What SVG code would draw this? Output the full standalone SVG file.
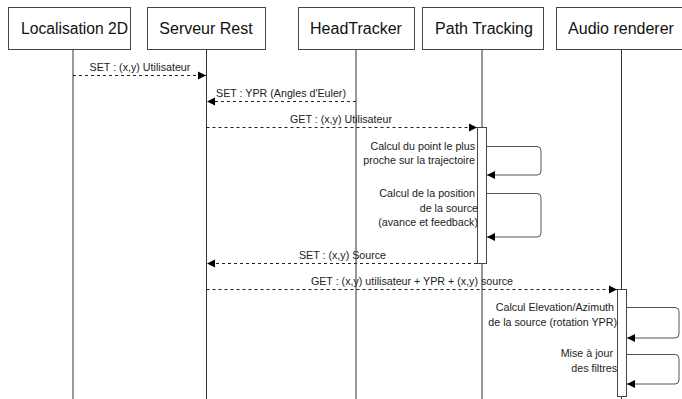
<svg xmlns="http://www.w3.org/2000/svg" width="682" height="399" viewBox="0 0 682 399">
<defs>
<style>
.box{fill:#fff;stroke:#444;stroke-width:1}
.title{font-family:"Liberation Sans",Arial,sans-serif;font-size:16px;fill:#111;text-anchor:middle}
.life{stroke:#333;stroke-width:1;fill:none}
.act{fill:#fff;stroke:#444;stroke-width:1}
.msg{stroke:#222;stroke-width:1;fill:none;stroke-dasharray:3 3}
.self{stroke:#555;stroke-width:1;fill:none}
.lbl{font-family:"Liberation Sans",Arial,sans-serif;font-size:10.7px;fill:#222}
.c{text-anchor:middle}
.r{text-anchor:end}
</style>
<marker id="ah" viewBox="0 0 10 10" refX="10" refY="5" markerWidth="8" markerHeight="9" markerUnits="userSpaceOnUse" orient="auto">
<path d="M0,0 L10,5 L0,10 Z" fill="#000"/>
</marker>
</defs>

<g id="lifelines">
<line class="life" x1="73" y1="49" x2="73" y2="399"/>
<line class="life" x1="206.5" y1="49" x2="206.5" y2="399"/>
<line class="life" x1="356" y1="49" x2="356" y2="399"/>
<line class="life" x1="482" y1="49" x2="482" y2="399"/>
<line class="life" x1="621.5" y1="49" x2="621.5" y2="399"/>
</g>

<g id="node-localisation">
<rect class="box" x="8.5" y="7.5" width="122" height="42"/>
<text class="title" x="74.5" y="34" textLength="107" lengthAdjust="spacingAndGlyphs">Localisation 2D</text>
</g>
<g id="node-serveur">
<rect class="box" x="147.5" y="7.5" width="118" height="42"/>
<text class="title" x="206" y="34">Serveur Rest</text>
</g>
<g id="node-headtracker">
<rect class="box" x="298.5" y="7.5" width="116" height="42"/>
<text class="title" x="356" y="34">HeadTracker</text>
</g>
<g id="node-pathtracking">
<rect class="box" x="422.5" y="7.5" width="121" height="42"/>
<text class="title" x="484" y="34">Path Tracking</text>
</g>
<g id="node-audio">
<rect class="box" x="556.5" y="7.5" width="130" height="42"/>
<text class="title" x="621" y="34">Audio renderer</text>
</g>

<g id="activation-pathtracking">
<rect class="act" x="477.5" y="127.5" width="9" height="136"/>
</g>
<g id="activation-audio">
<rect class="act" x="617.5" y="289.5" width="9" height="107"/>
</g>

<g id="connectors">
<line class="msg" x1="73" y1="75.5" x2="206" y2="75.5" marker-end="url(#ah)"/>
<text class="lbl c" x="140" y="71">SET : (x,y) Utilisateur</text>

<line class="msg" x1="356" y1="101.5" x2="207" y2="101.5" marker-end="url(#ah)"/>
<text class="lbl c" x="281" y="97">SET : YPR (Angles d'Euler)</text>

<line class="msg" x1="206.5" y1="127.5" x2="477" y2="127.5" marker-end="url(#ah)"/>
<text class="lbl c" x="341" y="123">GET : (x,y) Utilisateur</text>

<path class="self" d="M486.5,146.5 H537 Q541,146.5 541,150.5 V171 Q541,175 537,175 H487" marker-end="url(#ah)"/>
<text class="lbl r" x="475" y="150">Calcul du point le plus</text>
<text class="lbl r" x="475" y="164">proche sur la trajectoire</text>

<path class="self" d="M486.5,193.5 H537 Q541,193.5 541,197.5 V233 Q541,237 537,237 H487" marker-end="url(#ah)"/>
<text class="lbl r" x="475" y="197">Calcul de la position</text>
<text class="lbl r" x="478" y="211.5">de la source</text>
<text class="lbl r" x="478" y="226">(avance et feedback)</text>

<line class="msg" x1="477" y1="263.5" x2="207" y2="263.5" marker-end="url(#ah)"/>
<text class="lbl c" x="342.5" y="259">SET : (x,y) Source</text>

<line class="msg" x1="206.5" y1="289.5" x2="617" y2="289.5" marker-end="url(#ah)"/>
<text class="lbl c" x="412" y="285">GET : (x,y) utilisateur + YPR + (x,y) source</text>

<path class="self" d="M626.5,307.5 H675 Q679,307.5 679,311.5 V334 Q679,338 675,338 H627" marker-end="url(#ah)"/>
<text class="lbl r" x="614" y="311">Calcul Elevation/Azimuth</text>
<text class="lbl r" x="617" y="325.5">de la source (rotation YPR)</text>

<path class="self" d="M626.5,354.5 H675 Q679,354.5 679,358.5 V380 Q679,384 675,384 H627" marker-end="url(#ah)"/>
<text class="lbl r" x="613" y="357">Mise à jour</text>
<text class="lbl r" x="617" y="372">des filtres</text>
</g>
</svg>
